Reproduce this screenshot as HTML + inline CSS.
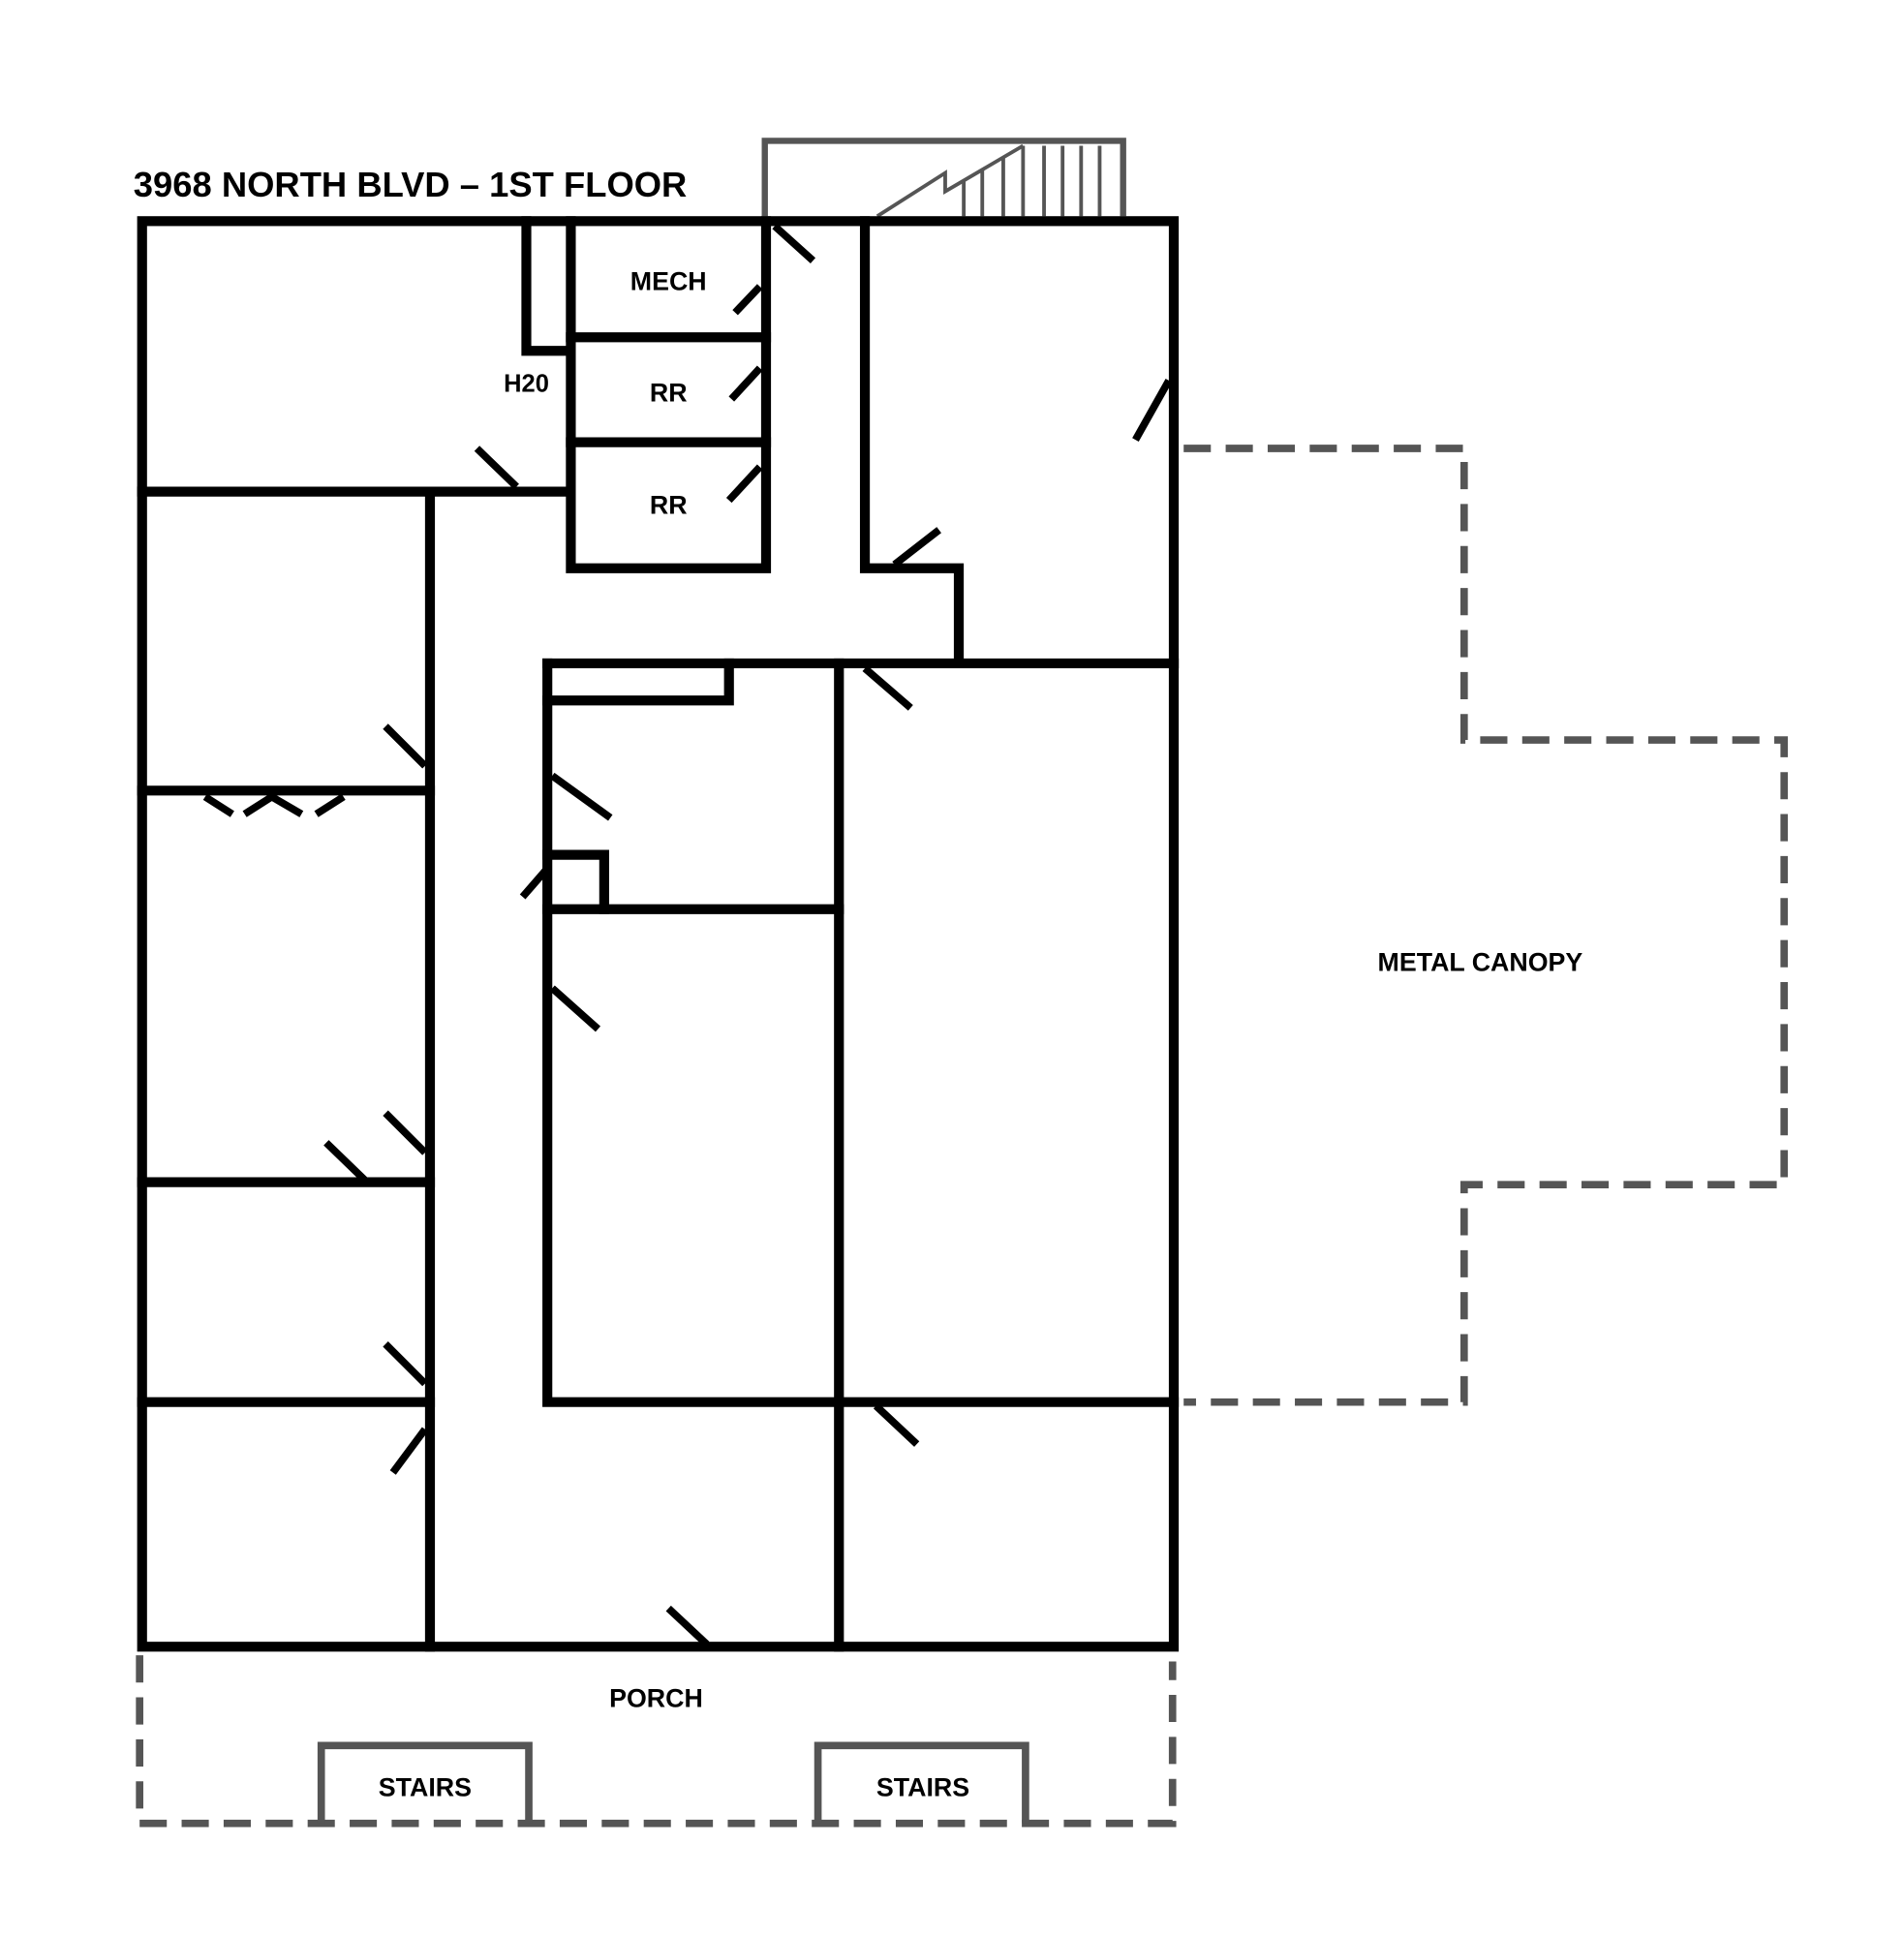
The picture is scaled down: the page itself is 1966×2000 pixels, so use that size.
<!DOCTYPE html>
<html><head><style>html,body{margin:0;padding:0;background:#fff}svg{display:block}</style></head>
<body>
<svg width="1966" height="2000" viewBox="0 0 1541 1568" preserveAspectRatio="none" xmlns="http://www.w3.org/2000/svg" font-family="Liberation Sans, sans-serif" font-weight="bold">
<g fill="none" stroke="#555" stroke-width="5">
<path d="M619,175 V114 H909 V175"/>
<path d="M710,175 L765,140 V155 L828,118" stroke-width="3"/>
<g stroke-width="3"><path d="M780,147V175M795,138V175M812,128V175M828,118V175M845,118V175M860,118V175M875,118V175M890,118V175"/></g>
</g>
<g fill="none" stroke="#555" stroke-width="6" stroke-dasharray="22 12">
<path d="M958,363 H1185 V599 H1444 V959 H1185 V1135 H958"/>
<path d="M113,1340 V1476 H949 V1345"/>
</g>
<g fill="none" stroke="#555" stroke-width="6">
<path d="M260,1476 V1413 H428 V1476"/>
<path d="M662,1476 V1413 H830 V1476"/>
</g>
<g fill="none" stroke="#000" stroke-width="8" stroke-linecap="square">
<rect x="115" y="179" width="835" height="1154"/>
<path d="M115,398 H460"/>
<path d="M426,179 V284 H460"/>
<path d="M462,179 V460 H620 V179"/>
<path d="M462,273 H620 M462,358 H620"/>
<path d="M700,179 V460 H776 V537"/>
<path d="M443,537 H950"/>
<path d="M348,398 V1333"/>
<path d="M115,640 H348 M115,957 H348 M115,1135 H348"/>
<path d="M443,537 V1135 H950"/>
<path d="M679,537 V1333"/>
<path d="M443,567 H590 V537"/>
<path d="M443,736 H679"/>
<path d="M443,692 H489 V736"/>
</g>
<g stroke="#000" stroke-width="6" fill="none">
<path d="M627,183 L658,211"/>
<path d="M615,232 L595,253"/>
<path d="M615,298 L592,323"/>
<path d="M615,378 L590,405"/>
<path d="M946,308 L919,356"/>
<path d="M386,363 L418,394"/>
<path d="M760,429 L724,457"/>
<path d="M700,541 L737,573"/>
<path d="M312,588 L344,620"/>
<path d="M166,645 L188,659 M198,659 L220,645 L244,659 M256,659 L278,645"/>
<path d="M447,628 L494,662"/>
<path d="M443,703 L423,726"/>
<path d="M447,800 L484,833"/>
<path d="M264,925 L295,955"/>
<path d="M312,901 L344,933"/>
<path d="M312,1088 L344,1120"/>
<path d="M344,1157 L318,1192"/>
<path d="M709,1138 L742,1169"/>
<path d="M541,1302 L572,1331"/>
</g>
<g fill="#000">
<text x="108" y="159" font-size="28" textLength="448" lengthAdjust="spacingAndGlyphs">3968 NORTH BLVD – 1ST FLOOR</text>
<text x="541" y="235" font-size="21" text-anchor="middle">MECH</text>
<text x="426" y="317" font-size="20" text-anchor="middle">H20</text>
<text x="541" y="325" font-size="21" text-anchor="middle">RR</text>
<text x="541" y="416" font-size="21" text-anchor="middle">RR</text>
<text x="1198" y="786" font-size="21" text-anchor="middle">METAL CANOPY</text>
<text x="531" y="1382" font-size="21" text-anchor="middle">PORCH</text>
<text x="344" y="1454" font-size="21" text-anchor="middle">STAIRS</text>
<text x="747" y="1454" font-size="21" text-anchor="middle">STAIRS</text>
</g>
</svg>
</body></html>
